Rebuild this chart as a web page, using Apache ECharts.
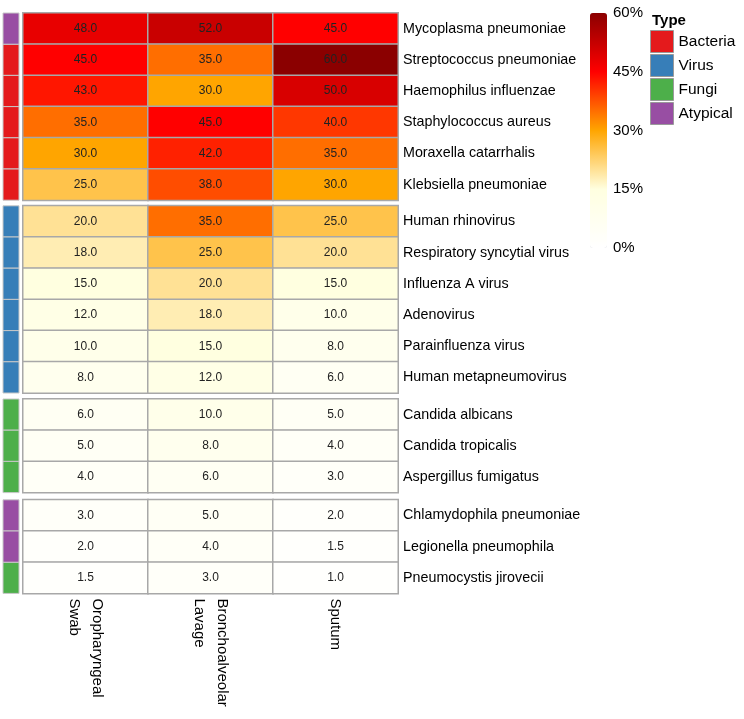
<!DOCTYPE html>
<html>
<head>
<meta charset="utf-8">
<script src="https://cdn.jsdelivr.net/npm/echarts@6/dist/echarts.min.js"></script>
<style>
  html, body { margin: 0; padding: 0; background: #fff; }
  #main { width: 744px; height: 719px; }
</style>
</head>
<body>
<div id="main"></div>
<script>
// data
var pathogens = [
  'Mycoplasma pneumoniae', 'Streptococcus pneumoniae', 'Haemophilus influenzae',
  'Staphylococcus aureus', 'Moraxella catarrhalis', 'Klebsiella pneumoniae',
  'Human rhinovirus', 'Respiratory syncytial virus', 'Influenza A virus',
  'Adenovirus', 'Parainfluenza virus', 'Human metapneumovirus',
  'Candida albicans', 'Candida tropicalis', 'Aspergillus fumigatus',
  'Chlamydophila pneumoniae', 'Legionella pneumophila', 'Pneumocystis jirovecii'
];
var pathogenTypes = [
  'Atypical', 'Bacteria', 'Bacteria', 'Bacteria', 'Bacteria', 'Bacteria',
  'Virus', 'Virus', 'Virus', 'Virus', 'Virus', 'Virus',
  'Fungi', 'Fungi', 'Fungi',
  'Atypical', 'Atypical', 'Fungi'
];
var specimens = ['Oropharyngeal\nSwab', 'Bronchoalveolar\nLavage', 'Sputum'];
var oropharyngealSwab = [48, 45, 43, 35, 30, 25, 20, 18, 15, 12, 10, 8, 6, 5, 4, 3, 2, 1.5];
var bronchoalveolarLavage = [52, 35, 30, 45, 42, 38, 35, 25, 20, 18, 15, 12, 10, 8, 6, 5, 4, 3];
var sputum = [45, 60, 50, 40, 35, 30, 25, 20, 15, 10, 8, 6, 5, 4, 3, 2, 1.5, 1];
var blockSizes = [6, 6, 3, 3];
var typeNames = ['Bacteria', 'Virus', 'Fungi', 'Atypical'];
var typeColors = ['#E41A1C', '#377EB8', '#4DAF4A', '#984EA3'];
var scaleColors = ['#FFFFFF', '#FFFFE0', '#FFA500', '#FF0000', '#8B0000'];

// layout
var rowH = 31.2;
var blockTops = [13, 205.8, 399, 499.8];
var font = 'Liberation Sans, Arial, sans-serif';

var myChart = echarts.init(document.getElementById('main'));

var columns = [oropharyngealSwab, bronchoalveolarLavage, sputum];
var grid = [], xAxis = [], yAxis = [], series = [];

// 热图块
var start = 0;
blockSizes.forEach(function (n, b) {
  var rows = pathogens.slice(start, start + n);
  grid.push({ left: 23, width: 375, top: blockTops[b], height: n * rowH });
  xAxis.push({
    type: 'category', gridIndex: b, data: specimens,
    show: b === blockSizes.length - 1,
    axisLine: { show: false }, axisTick: { show: false },
    axisLabel: { rotate: -90, margin: 5, fontSize: 15, color: '#000', fontFamily: font, lineHeight: 23 }
  });
  yAxis.push({
    type: 'category', gridIndex: b, data: rows, inverse: true, position: 'right',
    axisLine: { show: false }, axisTick: { show: false },
    axisLabel: { margin: 5, fontSize: 14.3, color: '#000', fontFamily: font }
  });
  var data = [];
  for (var r = 0; r < n; r++) {
    for (var c = 0; c < 3; c++) {
      data.push([c, r, columns[c][start + r]]);
    }
  }
  series.push({
    type: 'heatmap', xAxisIndex: b, yAxisIndex: b, data: data,
    itemStyle: { borderColor: '#a8a8a8', borderWidth: 1.5 },
    label: {
      show: true, fontSize: 12, color: '#222', fontFamily: font,
      formatter: function (p) { return p.value[2].toFixed(1); }
    },
    emphasis: { disabled: true }
  });
  start += n;
});

// 左侧类型注释条
start = 0;
blockSizes.forEach(function (n, b) {
  var gi = blockSizes.length + b;
  var rows = pathogens.slice(start, start + n);
  grid.push({ left: 3, width: 16, top: blockTops[b], height: n * rowH });
  xAxis.push({ type: 'category', gridIndex: gi, data: ['Type'], show: false });
  yAxis.push({ type: 'category', gridIndex: gi, data: rows, inverse: true, show: false });
  typeNames.forEach(function (t, ti) {
    var data = [];
    for (var r = 0; r < n; r++) {
      if (pathogenTypes[start + r] === t) data.push([0, r]);
    }
    if (!data.length) return;
    series.push({
      type: 'custom', name: t, xAxisIndex: gi, yAxisIndex: gi, data: data,
      itemStyle: { color: typeColors[ti] },
      renderItem: function (params, api) {
        var p = api.coord([api.value(0), api.value(1)]);
        var s = api.size([1, 1]);
        return {
          type: 'rect',
          shape: { x: p[0] - s[0] / 2, y: p[1] - s[1] / 2, width: s[0], height: s[1] },
          style: api.style({ stroke: '#c8c8c8', lineWidth: 1 })
        };
      }
    });
  });
  start += n;
});

// 色条刻度
var cg = grid.length;
grid.push({ left: 590, width: 17, top: 13, height: 235 });
xAxis.push({ type: 'value', gridIndex: cg, show: false });
yAxis.push({
  type: 'value', gridIndex: cg, min: 0, max: 60, interval: 15, position: 'right',
  axisLine: { show: false }, axisTick: { show: false }, splitLine: { show: false },
  axisLabel: { margin: 6, fontSize: 15, color: '#000', fontFamily: font, formatter: '{value}%' }
});

var option = {
  animation: false,
  title: {
    text: 'Type', left: 652, top: 13, padding: 0,
    textStyle: { fontSize: 15, fontWeight: 'bold', color: '#000', fontFamily: font }
  },
  legend: {
    data: typeNames, orient: 'vertical', left: 650, top: 30,
    icon: 'rect', itemWidth: 23, itemHeight: 22, itemGap: 1, padding: 0,
    selectedMode: false,
    itemStyle: { borderColor: '#9a9a9a', borderWidth: 1 },
    textStyle: { fontSize: 15.5, color: '#000', fontFamily: font }
  },
  visualMap: {
    type: 'continuous', min: 0, max: 60, seriesIndex: [0, 1, 2, 3],
    left: 590, top: 13, itemWidth: 17, itemHeight: 235, padding: 0,
    calculable: false, text: null, showLabel: false,
    inRange: { color: scaleColors }
  },
  grid: grid,
  xAxis: xAxis,
  yAxis: yAxis,
  series: series
};

myChart.setOption(option);
</script>
</body>
</html>
